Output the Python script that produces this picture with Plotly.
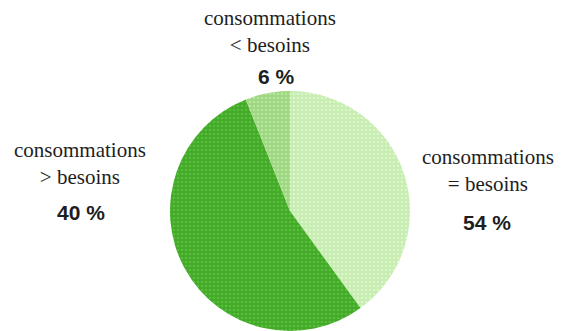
import plotly.graph_objects as go

# Slices clockwise from 12 o'clock (shares as drawn in the picture)
categories = ["consommations<br>= besoins", "consommations<br>> besoins", "consommations<br>< besoins"]
slice_share = [40, 54, 6]
pct_labels = ["54 %", "40 %", "6 %"]

bg_colors = ["#c6edb0", "#42aa28", "#9dd87f"]
fg_colors = ["#dcf5cb", "#5abd3c", "#b8e6a0"]

# label placement (paper coords) for the name and percentage of each slice
name_pos = [(0.861, 0.485), (0.141, 0.506), (0.476, 0.906)]
pct_pos = [(0.859, 0.329), (0.143, 0.358), (0.4885, 0.769)]

fig = go.Figure(go.Pie(
    labels=categories,
    values=slice_share,
    sort=False,
    direction="clockwise",
    rotation=0,
    textinfo="none",
    hoverinfo="label+value",
    marker=dict(colors=bg_colors, line=dict(width=0),
                pattern=dict(shape=".", fgcolor=fg_colors, bgcolor=bg_colors,
                             size=4, solidity=0.35)),
    domain=dict(x=[0.2998, 0.7231], y=[0.0, 0.725]),
    showlegend=False,
))

annotations = []
for name, pct, (nx, ny), (px, py) in zip(categories, pct_labels, name_pos, pct_pos):
    annotations.append(dict(text=name, x=nx, y=ny, xref="paper", yref="paper",
                            showarrow=False, xanchor="center", yanchor="middle",
                            font=dict(family="Liberation Serif", size=21, color="#1e1e1e")))
    annotations.append(dict(text="<b>" + pct + "</b>", x=px, y=py, xref="paper", yref="paper",
                            showarrow=False, xanchor="center", yanchor="middle",
                            font=dict(family="Liberation Sans", size=21, color="#1e1e1e")))

fig.update_layout(
    width=567, height=331,
    margin=dict(l=0, r=0, t=0, b=0),
    paper_bgcolor="white", plot_bgcolor="white",
    annotations=annotations,
)

fig.write_html("out.html", config={"displayModeBar": False},
               post_script="document.body.style.margin='0';")
